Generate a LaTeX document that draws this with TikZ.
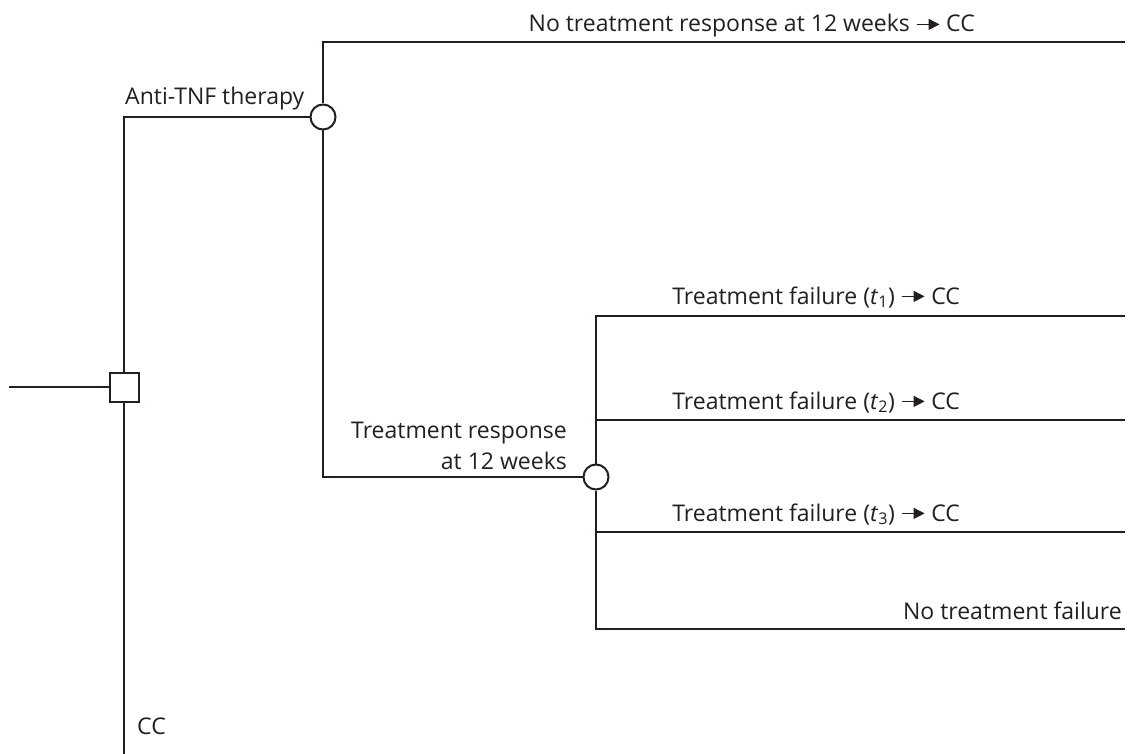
\documentclass[tikz,border=0pt]{standalone}
\usepackage{fontspec}
\setmainfont{Open Sans}
\usetikzlibrary{arrows.meta}
\definecolor{ink}{HTML}{231F20}
\newcommand{\tarr}{\tikz[baseline=0pt]{\draw[ink,line width=1.4pt,-{Triangle[length=11pt,width=11pt]}] (0,0.33em) -- (1.0em,0.33em);}}
\begin{document}
\begin{tikzpicture}[x=1pt,y=-1pt,
  line/.style={ink,line width=2pt},
  sq/.style={draw=ink,line width=2pt,fill=white,minimum size=29pt,inner sep=0pt},
  ch/.style={draw=ink,line width=2pt,fill=white,circle,minimum size=25pt,inner sep=0pt},
  lab/.style={text=ink,font=\fontsize{23}{27}\selectfont,inner sep=0pt}]
\useasboundingbox (0,0) rectangle (1132,754);
% nodes
\node[sq] (d) at (124,387) {};
\node[ch] (c1) at (323,117) {};
\node[ch] (c2) at (596,477) {};
\coordinate (s) at (9,387);
\coordinate (ccend) at (124,754);
\coordinate (e1) at (1125,42);
\coordinate (e2) at (1125,316);
\coordinate (e3) at (1125,420);
\coordinate (e4) at (1125,532);
\coordinate (e5) at (1125,629);
% connectors
\draw[line] (s) -- (d.west);
\draw[line] (d.north) |- (c1.west);
\draw[line] (d.south) -- (ccend);
\draw[line] (c1.north) |- (e1);
\draw[line] (c1.south) |- (c2.west);
\draw[line] (c2.north) |- (e2);
\draw[line] (c2.north |- e3) -- (e3);
\draw[line] (c2.south) |- (e5);
\draw[line] (c2.south |- e4) -- (e4);
% labels
\node[lab,anchor=base east] (l1) at (975,32) {No treatment response at 12 weeks \tarr\ CC};
\node[lab,anchor=base west] (l2) at (125,105) {Anti-TNF therapy};
\node[lab,anchor=base east] (l3) at (960,304) {Treatment failure (\textit{t}\textsubscript{1}) \tarr\ CC};
\node[lab,anchor=base east] (l4) at (960,409) {Treatment failure (\textit{t}\textsubscript{2}) \tarr\ CC};
\node[lab,anchor=base east] (l5) at (960,521) {Treatment failure (\textit{t}\textsubscript{3}) \tarr\ CC};
\node[lab,anchor=base east] (l6) at (1122,619) {No treatment failure};
\node[lab,anchor=base east] (l7) at (567,438) {Treatment response};
\node[lab,anchor=base east] (l8) at (567,469) {at 12 weeks};
\node[lab,anchor=base west] (l9) at (137,734) {CC};
\end{tikzpicture}
\end{document}
